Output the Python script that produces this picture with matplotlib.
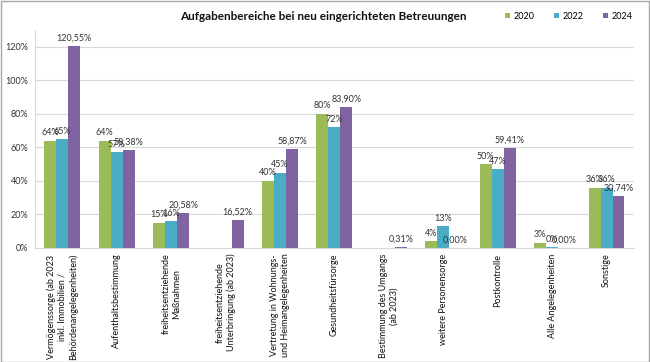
import numpy as np
import matplotlib.pyplot as plt
from matplotlib.patches import Rectangle

plt.rcParams['font.family'] = ['Lato', 'DejaVu Sans']

categories = [
    "Vermögenssorge (ab 2023\ninkl. Immobilien /\nBehördenangelegenheiten)",
    "Aufenthaltsbestimmung",
    "freiheitsentziehende\nMaßnahmen",
    "freiheitsentziehende\nUnterbringung (ab 2023)",
    "Vertretung in Wohnungs-\nund Heimangelegenheiten",
    "Gesundheitsfürsorge",
    "Bestimmung des Umgangs\n(ab 2023)",
    "weitere Personensorge",
    "Postkontrolle",
    "Alle Angelegenheiten",
    "Sonstige",
]
years = ["2020", "2022", "2024"]
v2020 = [0.64, 0.64, 0.15, np.nan, 0.40, 0.80, np.nan, 0.04, 0.50, 0.03, 0.36]
v2022 = [0.65, 0.57, 0.16, np.nan, 0.45, 0.72, np.nan, 0.13, 0.47, 0.004, 0.36]
v2024 = [1.2055, 0.5838, 0.2058, 0.1652, 0.5887, 0.8390, 0.0031, 0.0, 0.5941, 0.0, 0.3074]
colors = ['#9BBB59', '#4BACC6', '#8064A2']

fig = plt.figure(figsize=(6.5, 3.62), dpi=100)
fig.patches.append(Rectangle((0.001, 0.001), 0.997, 0.997, transform=fig.transFigure,
                             fill=False, edgecolor='#A6A6A6', linewidth=1))
ax = fig.add_axes([0.054, 0.315, 0.921, 0.602])

x = np.arange(len(categories))
w = 0.22
series = [v2020, v2022, v2024]
for i, (vals, c, yr) in enumerate(zip(series, colors, years)):
    pos = x + (i - 1) * w
    vals = np.array(vals, dtype=float)
    ax.bar(pos, np.nan_to_num(vals), w, color=c, label=yr, zorder=2)
    for p, v in zip(pos, vals):
        if np.isnan(v):
            continue
        if i == 2:
            txt = ('%.2f%%' % (v * 100)).replace('.', ',')
        else:
            txt = '%d%%' % round(v * 100)
        ax.annotate(txt, (p, v), xytext=(0, 2.5), textcoords='offset points',
                    ha='center', va='bottom', fontsize=6.5, color='#333333')

ax.set_xlim(-0.5, len(categories) - 0.5)
ax.set_ylim(0, 1.3)
yt = np.arange(0, 1.21, 0.2)
ax.set_yticks(yt)
ax.set_yticklabels(['%d%%' % round(t * 100) for t in yt], fontsize=6.5, color='#333333')
ax.grid(axis='y', color='#D9D9D9', linewidth=0.8, zorder=0)
ax.set_axisbelow(True)
for s in ['top', 'right']:
    ax.spines[s].set_visible(False)
ax.spines['left'].set_color('#D9D9D9')
ax.spines['bottom'].set_color('#D9D9D9')
ax.tick_params(axis='y', length=0, pad=5)
ax.tick_params(axis='x', length=0, pad=4)
ax.set_xticks(x)
ax.set_xticklabels(categories, rotation=90, fontsize=6.5, color='#111111',
                   ha='center', va='top', multialignment='center')

fig.text(0.497, 0.955, 'Aufgabenbereiche bei neu eingerichteten Betreuungen',
         ha='center', va='center', fontsize=8.5, fontweight='bold', color='#111111')
fig.legend(loc='center', bbox_to_anchor=(0.875, 0.955), ncol=3, frameon=False,
           fontsize=6.5, handlelength=0.5, handleheight=0.5, columnspacing=2.2,
           handletextpad=0.4)

fig.savefig('out.png', dpi=100)
